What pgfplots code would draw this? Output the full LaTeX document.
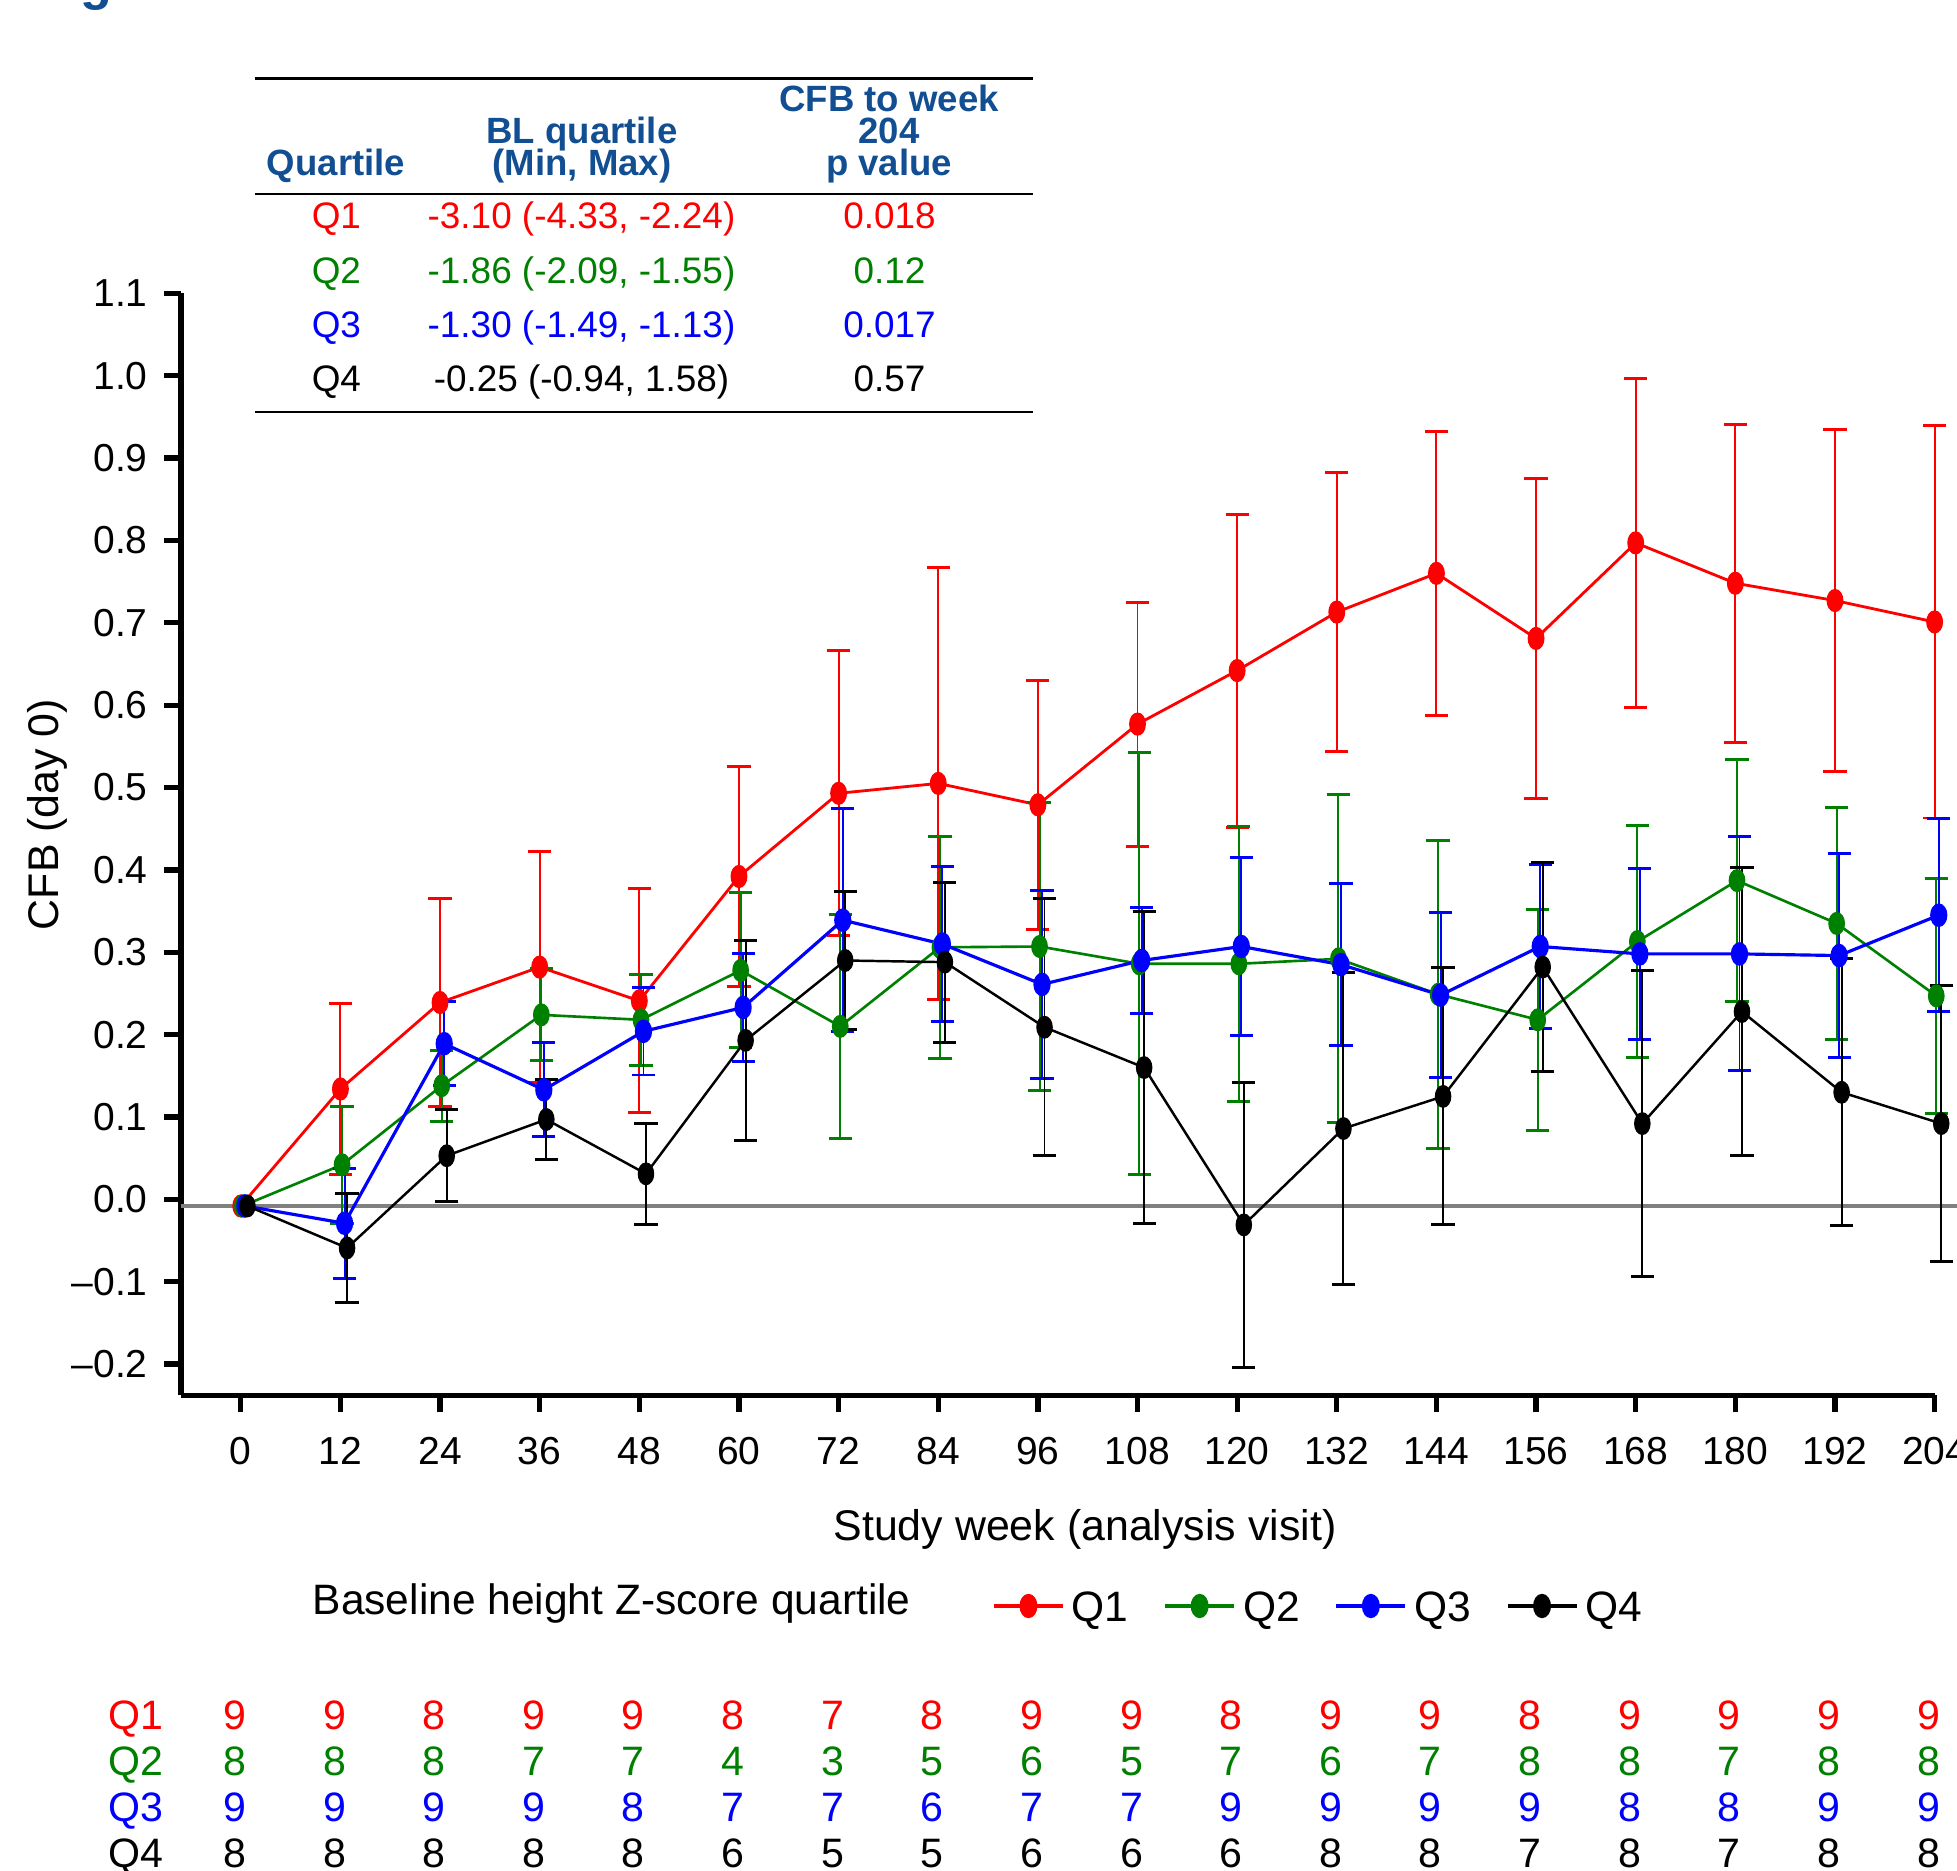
\documentclass[border=0pt]{standalone}
\usepackage{pgfplots}
\pgfplotsset{compat=1.18}
\usepackage{pgfplotstable}
\usepackage{fontspec}
\setmainfont{Liberation Sans}
\definecolor{hdrblue}{RGB}{18,78,146}
\definecolor{qred}{RGB}{255,0,0}
\definecolor{qgreen}{RGB}{0,128,0}
\definecolor{qblue}{RGB}{0,0,255}
\definecolor{zgray}{RGB}{128,128,128}
\newcommand\fs[1]{\fontsize{#1}{#1}\selectfont}

\pgfplotstableread{
w m e
0 -0.008 0
12 0.134 0.104
24 0.239 0.126
36 0.282 0.140
48 0.241 0.136
60 0.392 0.134
72 0.493 0.173
84 0.505 0.262
96 0.479 0.151
108 0.577 0.148
120 0.642 0.190
132 0.713 0.169
144 0.760 0.172
156 0.681 0.194
168 0.797 0.200
180 0.748 0.193
192 0.727 0.208
204 0.701 0.238
}\qone
\pgfplotstableread{
w m e
0 -0.008 0
12 0.042 0.071
24 0.138 0.043
36 0.224 0.056
48 0.218 0.055
60 0.278 0.094
72 0.210 0.136
84 0.306 0.135
96 0.307 0.175
108 0.286 0.256
120 0.286 0.167
132 0.292 0.199
144 0.249 0.187
156 0.218 0.134
168 0.313 0.141
180 0.387 0.147
192 0.335 0.141
204 0.247 0.143
}\qtwo
\pgfplotstableread{
w m e
0 -0.008 0
12 -0.029 0.067
24 0.189 0.051
36 0.133 0.057
48 0.204 0.053
60 0.233 0.066
72 0.339 0.135
84 0.310 0.094
96 0.261 0.114
108 0.290 0.064
120 0.307 0.108
132 0.285 0.098
144 0.248 0.100
156 0.307 0.099
168 0.298 0.104
180 0.298 0.142
192 0.296 0.124
204 0.345 0.117
}\qthree
\pgfplotstableread{
w m e
0 -0.008 0
12 -0.059 0.066
24 0.053 0.056
36 0.097 0.048
48 0.031 0.061
60 0.193 0.121
72 0.290 0.084
84 0.288 0.097
96 0.209 0.156
108 0.160 0.189
120 -0.031 0.173
132 0.086 0.189
144 0.125 0.156
156 0.282 0.127
168 0.092 0.186
180 0.228 0.175
192 0.130 0.162
204 0.092 0.168
}\qfour

\pgfplotsset{
  ebar/.style={only marks, mark=*, mark size=2pt, mark options={solid, yscale=1.45}, forget plot,
    restrict x to domain=5:300,
    error bars/.cd, y dir=both, y explicit,
    error bar style={line width=0.55pt, solid},
    error mark options={rotate=90, mark size=3.3pt, line width=0.85pt}},
  qline/.style={mark=*, mark size=2pt, mark options={solid, yscale=1.45}}
}

\begin{document}
\begin{tikzpicture}
% partial title glyph
\node[anchor=base west, inner sep=0pt, text=hdrblue, font=\fs{14.8}\bfseries] at (0.80,0.0) {g};

% summary table
\draw[line width=0.8pt] (2.546,-0.787) -- (10.333,-0.787);
\draw[line width=0.8pt] (2.546,-1.94) -- (10.333,-1.94);
\draw[line width=0.8pt] (2.546,-4.12) -- (10.333,-4.12);
\begin{scope}[every node/.style={anchor=base, inner sep=0pt}]
\node[text=hdrblue, font=\fs{10.4}\bfseries] at (3.36,-1.76) {Quartile};
\node[text=hdrblue, font=\fs{10.4}\bfseries] at (5.82,-1.44) {BL quartile};
\node[text=hdrblue, font=\fs{10.4}\bfseries] at (5.82,-1.76) {(Min, Max)};
\node[text=hdrblue, font=\fs{10.4}\bfseries] at (8.89,-1.117) {CFB to week};
\node[text=hdrblue, font=\fs{10.4}\bfseries] at (8.89,-1.44) {204};
\node[text=hdrblue, font=\fs{10.4}\bfseries] at (8.89,-1.76) {p value};
\node[text=qred, font=\fs{10.5}] at (3.364,-2.29) {Q1};
\node[text=qred, font=\fs{10.5}] at (5.815,-2.29) {-3.10 (-4.33, -2.24)};
\node[text=qred, font=\fs{10.5}] at (8.895,-2.29) {0.018};
\node[text=qgreen, font=\fs{10.5}] at (3.364,-2.833) {Q2};
\node[text=qgreen, font=\fs{10.5}] at (5.815,-2.833) {-1.86 (-2.09, -1.55)};
\node[text=qgreen, font=\fs{10.5}] at (8.895,-2.833) {0.12};
\node[text=qblue, font=\fs{10.5}] at (3.364,-3.373) {Q3};
\node[text=qblue, font=\fs{10.5}] at (5.815,-3.373) {-1.30 (-1.49, -1.13)};
\node[text=qblue, font=\fs{10.5}] at (8.895,-3.373) {0.017};
\node[text=black, font=\fs{10.5}] at (3.364,-3.917) {Q4};
\node[text=black, font=\fs{10.5}] at (5.815,-3.917) {-0.25 (-0.94, 1.58)};
\node[text=black, font=\fs{10.5}] at (8.895,-3.917) {0.57};
\end{scope}

\begin{axis}[
  at={(1.81cm,-13.954cm)}, anchor=south west,
  scale only axis, width=17.536cm, height=11.021cm,
  xmin=-7.2, xmax=204, ymin=-0.238, ymax=1.1,
  axis x line*=bottom, axis y line*=left,
  axis line style={-, line width=1.55pt},
  xtick={0,12,24,36,48,60,72,84,96,108,120,132,144,156,168,180,192,204},
  ytick={-0.2,-0.1,0,0.1,0.2,0.3,0.4,0.5,0.6,0.7,0.8,0.9,1.0,1.1},
  yticklabels={–0.2,–0.1,0.0,0.1,0.2,0.3,0.4,0.5,0.6,0.7,0.8,0.9,1.0,1.1},
  /pgf/number format/assume math mode=true,
  tick align=outside, major tick length=0.17cm,
  tick style={line width=1.5pt, black},
  xticklabel style={font=\fs{11.1}, yshift=-0.125cm},
  yticklabel style={font=\fs{11.1}, xshift=-0.04cm},
  clip=false,
  legend columns=4,
  legend image code/.code={\draw[mark repeat=2, mark phase=2, #1, line width=1.1pt] plot coordinates {(0cm,0.03cm) (0.345cm,0.03cm) (0.69cm,0.03cm)};},
  legend style={at={(0.4625,-0.1938)}, anchor=west, draw=none, fill=none, inner sep=0pt, outer sep=0pt,
    font=\fs{12.1}, nodes={inner sep=0pt},
    /tikz/every odd column/.append style={column sep=0.07cm},
    /tikz/every even column/.append style={column sep=0.346cm}},
]
\addplot[zgray, line width=1pt, forget plot] coordinates {(-7.2,-0.008) (215,-0.008)};

\addplot[qred, ebar] table[x expr=\thisrow{w}, y=m, y error=e] {\qone};
\addplot[qred, line width=0.8pt, qline] table[x expr=\thisrow{w}, y=m] {\qone};
\addlegendentry{Q1}
\addplot[qgreen, ebar] table[x expr=\thisrow{w}+0.2, y=m, y error=e] {\qtwo};
\addplot[qgreen, line width=0.75pt, qline] table[x expr=\thisrow{w}+0.2, y=m] {\qtwo};
\addlegendentry{Q2}
\addplot[qblue, ebar] table[x expr=\thisrow{w}+0.5, y=m, y error=e] {\qthree};
\addplot[qblue, line width=0.9pt, qline] table[x expr=\thisrow{w}+0.5, y=m] {\qthree};
\addlegendentry{Q3}
\addplot[black, ebar] table[x expr=\thisrow{w}+0.8, y=m, y error=e] {\qfour};
\addplot[black, line width=0.7pt, qline] table[x expr=\thisrow{w}+0.8, y=m] {\qfour};
\addlegendentry{Q4}
\end{axis}

% axis titles
\node[rotate=90, anchor=center, inner sep=0pt, font=\fs{12.2}] at (0.475,-8.145) {CFB (day 0)};
\node[anchor=base, inner sep=0pt, font=\fs{12.2}] at (10.85,-15.40) {Study week (analysis visit)};
\node[anchor=base west, inner sep=0pt, font=\fs{12.1}] at (3.12,-16.14) {Baseline height Z-score quartile};

% N at risk
\begin{scope}[every node/.style={anchor=base, inner sep=0pt, font=\fs{11.7}}]
\node[anchor=base west, text=qred] at (1.08,-17.29) {Q1};
\node[anchor=base west, text=qgreen] at (1.08,-17.75) {Q2};
\node[anchor=base west, text=qblue] at (1.08,-18.21) {Q3};
\node[anchor=base west, text=black] at (1.08,-18.67) {Q4};
\foreach \n [count=\i from 0] in {9,9,8,9,9,8,7,8,9,9,8,9,9,8,9,9,9,9}
  \node[text=qred] at ({2.349+0.9962*\i},-17.29) {\n};
\foreach \n [count=\i from 0] in {8,8,8,7,7,4,3,5,6,5,7,6,7,8,8,7,8,8}
  \node[text=qgreen] at ({2.349+0.9962*\i},-17.75) {\n};
\foreach \n [count=\i from 0] in {9,9,9,9,8,7,7,6,7,7,9,9,9,9,8,8,9,9}
  \node[text=qblue] at ({2.349+0.9962*\i},-18.21) {\n};
\foreach \n [count=\i from 0] in {8,8,8,8,8,6,5,5,6,6,6,8,8,7,8,7,8,8}
  \node[text=black] at ({2.349+0.9962*\i},-18.67) {\n};
\end{scope}

\pgfresetboundingbox
\path[use as bounding box] (0,0) rectangle (19.57,-18.71);
\end{tikzpicture}
\end{document}
